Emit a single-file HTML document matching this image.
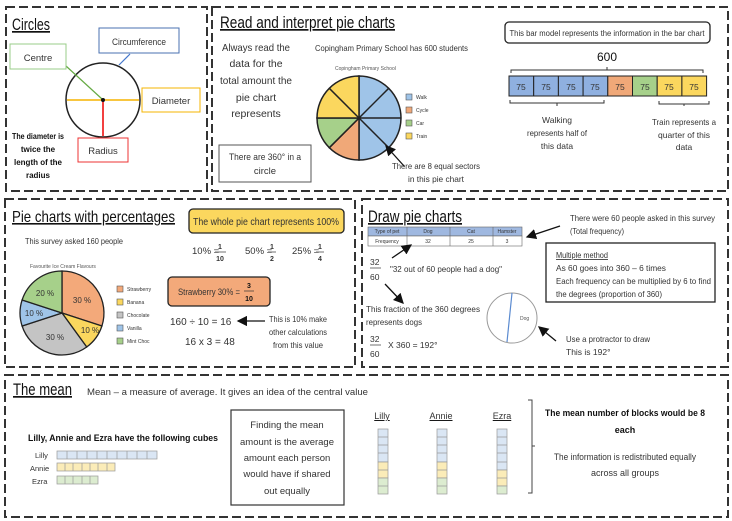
<!DOCTYPE html>
<html><head><meta charset="utf-8"><style>
html,body{margin:0;padding:0;background:#fff}
svg{display:block}
text{font-family:"Liberation Sans",sans-serif;fill:#333}
.t{font-size:17px;fill:#111;text-decoration:underline}
.s{font-size:9.5px}
.xs{font-size:5px;fill:#555}
.b{font-weight:bold;fill:#111}
</style></head><body>
<svg width="732" height="521" viewBox="0 0 732 521" xmlns="http://www.w3.org/2000/svg">
<defs><marker id="ar" markerWidth="8" markerHeight="8" refX="7" refY="4" orient="auto"><path d="M0,0 L8,4 L0,8 z" fill="#111"/></marker></defs>
<g fill="none" stroke="#333" stroke-width="2" stroke-dasharray="9,4">
<rect x="6" y="7" width="201" height="184"/>
<rect x="212" y="7" width="516" height="184"/>
<rect x="5" y="199" width="350" height="168"/>
<rect x="362" y="199" width="366" height="168"/>
<rect x="5" y="375" width="723" height="142"/>
</g>
<!-- Circles -->
<text x="12" y="30" class="t" textLength="38" lengthAdjust="spacingAndGlyphs">Circles</text>
<circle cx="103" cy="100" r="37" fill="none" stroke="#222" stroke-width="1.5"/>
<line x1="67" y1="100" x2="139" y2="100" stroke="#f5b400" stroke-width="1.5"/>
<line x1="103" y1="100" x2="103" y2="136" stroke="#e00" stroke-width="1.5"/>
<line x1="66" y1="66" x2="102" y2="99" stroke="#6a4" stroke-width="1.2"/>
<line x1="130" y1="54" x2="119" y2="65" stroke="#47c" stroke-width="1.2"/>
<circle cx="103" cy="100" r="2" fill="#111"/>
<rect x="10" y="44" width="56" height="25" fill="#fff" stroke="#9c8"/>
<text x="38" y="61" class="s" text-anchor="middle">Centre</text>
<rect x="99" y="28" width="80" height="25" fill="#fff" stroke="#4a70b0"/>
<text x="139" y="45" class="s" text-anchor="middle" textLength="54" lengthAdjust="spacingAndGlyphs">Circumference</text>
<rect x="142" y="88" width="58" height="24" fill="#fff" stroke="#f5b400"/>
<text x="171" y="104" class="s" text-anchor="middle">Diameter</text>
<rect x="78" y="138" width="50" height="24" fill="#fff" stroke="#e33"/>
<text x="103" y="154" class="s" text-anchor="middle">Radius</text>
<g text-anchor="middle" style="font-size:8px;font-weight:bold"><text x="38" y="139" class="b" textLength="52" lengthAdjust="spacingAndGlyphs">The diameter is</text><text x="38" y="152" class="b">twice the</text><text x="38" y="165" class="b">length of the</text><text x="38" y="178" class="b">radius</text></g>
<!-- Read -->
<text x="220" y="28" class="t" textLength="175" lengthAdjust="spacingAndGlyphs">Read and interpret pie charts</text>
<g class="s" text-anchor="middle" style="font-size:10.5px"><text x="256" y="51" textLength="68" lengthAdjust="spacingAndGlyphs">Always read the</text><text x="256" y="67">data for the</text><text x="256" y="84" textLength="72" lengthAdjust="spacingAndGlyphs">total amount the</text><text x="256" y="101">pie chart</text><text x="256" y="117">represents</text></g>
<rect x="219" y="145" width="92" height="37" fill="none" stroke="#555"/>
<text x="265" y="160" class="s" text-anchor="middle" textLength="72" lengthAdjust="spacingAndGlyphs">There are 360° in a</text>
<text x="265" y="174" class="s" text-anchor="middle">circle</text>
<text x="315" y="51" class="s" style="font-size:8.5px" textLength="153" lengthAdjust="spacingAndGlyphs">Copingham Primary School has 600 students</text>
<text x="335" y="70" class="xs">Copingham Primary School</text>
<g stroke="#222" stroke-width="1.5">
<path d="M359,118 L359,76 A42,42 0 0 1 359,160 z" fill="#9fc4e8"/>
<path d="M359,118 L359,160 A42,42 0 0 1 329.3,147.7 z" fill="#f0a878"/>
<path d="M359,118 L329.3,147.7 A42,42 0 0 1 317,118 z" fill="#a6d08a"/>
<path d="M359,118 L317,118 A42,42 0 0 1 359,76 z" fill="#fbd75e"/>
<line x1="359" y1="118" x2="388.7" y2="88.3"/><line x1="359" y1="118" x2="401" y2="118"/><line x1="359" y1="118" x2="388.7" y2="147.7"/><line x1="359" y1="118" x2="329.3" y2="88.3"/>
</g>
<g stroke="#555" stroke-width="0.6"><rect x="406" y="94" width="6" height="6" fill="#9fc4e8"/><rect x="406" y="107" width="6" height="6" fill="#f0a878"/><rect x="406" y="120" width="6" height="6" fill="#a6d08a"/><rect x="406" y="133" width="6" height="6" fill="#fbd75e"/></g>
<g class="xs"><text x="416" y="99">Walk</text><text x="416" y="112">Cycle</text><text x="416" y="125">Car</text><text x="416" y="138">Train</text></g>
<line x1="404" y1="166" x2="386" y2="146" stroke="#111" stroke-width="1.3" marker-end="url(#ar)"/>
<text x="436" y="169" class="s" text-anchor="middle" style="font-size:8.5px" textLength="88" lengthAdjust="spacingAndGlyphs">There are 8 equal sectors</text>
<text x="436" y="182" class="s" text-anchor="middle" style="font-size:8.5px" textLength="56" lengthAdjust="spacingAndGlyphs">in this pie chart</text>
<rect x="505" y="22" width="205" height="21" rx="4" fill="#fff" stroke="#222" stroke-width="1.3"/>
<text x="607" y="36" class="s" text-anchor="middle" style="font-size:8px" textLength="195" lengthAdjust="spacingAndGlyphs">This bar model represents the information in the bar chart</text>
<text x="607" y="61" class="s" text-anchor="middle" style="font-size:12px;fill:#111">600</text>
<path d="M511,73 v-3 h192 v3 M607,70 v-3" fill="none" stroke="#333"/>
<g stroke="#222" stroke-width="1">
<rect x="509" y="76" width="24.7" height="20" fill="#8fb0e0"/><rect x="533.7" y="76" width="24.7" height="20" fill="#8fb0e0"/><rect x="558.4" y="76" width="24.7" height="20" fill="#8fb0e0"/><rect x="583.1" y="76" width="24.7" height="20" fill="#8fb0e0"/><rect x="607.8" y="76" width="24.7" height="20" fill="#f0a878"/><rect x="632.5" y="76" width="24.7" height="20" fill="#a6d08a"/><rect x="657.2" y="76" width="24.7" height="20" fill="#fbd75e"/><rect x="681.9" y="76" width="24.7" height="20" fill="#fbd75e"/>
</g>
<g class="s" text-anchor="middle" style="font-size:8.5px"><text x="521" y="90">75</text><text x="546" y="90">75</text><text x="571" y="90">75</text><text x="595" y="90">75</text><text x="620" y="90">75</text><text x="645" y="90">75</text><text x="669" y="90">75</text><text x="694" y="90">75</text></g>
<path d="M510,100 v3 h94 v-3 M557,103 v3 M659,101 v3 h50 v-3 M684,104 v2" fill="none" stroke="#333"/>
<g class="s" text-anchor="middle" style="font-size:8.5px"><text x="557" y="123">Walking</text><text x="557" y="136" textLength="60" lengthAdjust="spacingAndGlyphs">represents half of</text><text x="557" y="149">this data</text>
<text x="684" y="125" textLength="64" lengthAdjust="spacingAndGlyphs">Train represents a</text><text x="684" y="138">quarter of this</text><text x="684" y="150">data</text></g>
<!-- Percentages -->
<text x="12" y="222" class="t" style="font-size:16px" textLength="163" lengthAdjust="spacingAndGlyphs">Pie charts with percentages</text>
<text x="25" y="244" class="s" style="font-size:8.5px" textLength="98" lengthAdjust="spacingAndGlyphs">This survey asked 160 people</text>
<rect x="189" y="209" width="155" height="24" rx="4" fill="#fbd75e" stroke="#222" stroke-width="1.3"/>
<text x="266" y="225" class="s" text-anchor="middle" style="font-size:10px" textLength="146" lengthAdjust="spacingAndGlyphs">The whole pie chart represents 100%</text>
<g class="s" style="font-size:9.5px"><text x="192" y="254">10% =</text><text x="245" y="254">50% =</text><text x="292" y="254">25% =</text></g>
<g class="s b" text-anchor="middle" style="font-size:7px"><text x="220" y="249">1</text><text x="220" y="261">10</text><text x="272" y="249">1</text><text x="272" y="261">2</text><text x="320" y="249">1</text><text x="320" y="261">4</text></g>
<g stroke="#333" stroke-width="0.7"><line x1="215" y1="252" x2="226" y2="252"/><line x1="268" y1="252" x2="276" y2="252"/><line x1="316" y1="252" x2="324" y2="252"/></g>
<text x="30" y="268" class="xs">Favourite Ice Cream Flavours</text>
<g stroke="#222" stroke-width="1.3">
<path d="M62,313 L62,271 A42,42 0 0 1 101.9,326 z" fill="#f3a97a"/>
<path d="M62,313 L101.9,326 A42,42 0 0 1 86.7,347 z" fill="#fbd75e"/>
<path d="M62,313 L86.7,347 A42,42 0 0 1 22.1,326 z" fill="#c4c4c4"/>
<path d="M62,313 L22.1,326 A42,42 0 0 1 22.1,300 z" fill="#9fc4e8"/>
<path d="M62,313 L22.1,300 A42,42 0 0 1 62,271 z" fill="#a6d08a"/>
</g>
<g class="s" style="font-size:8px;fill:#333" text-anchor="middle"><text x="82" y="303">30 %</text><text x="45" y="296">20 %</text><text x="34" y="316">10 %</text><text x="90" y="333">10 %</text><text x="55" y="340">30 %</text></g>
<g stroke="#555" stroke-width="0.6"><rect x="117" y="286" width="6" height="6" fill="#f3a97a"/><rect x="117" y="299" width="6" height="6" fill="#fbd75e"/><rect x="117" y="312" width="6" height="6" fill="#c4c4c4"/><rect x="117" y="325" width="6" height="6" fill="#9fc4e8"/><rect x="117" y="338" width="6" height="6" fill="#a6d08a"/></g>
<g class="xs"><text x="127" y="291">Strawberry</text><text x="127" y="304">Banana</text><text x="127" y="317">Chocolate</text><text x="127" y="330">Vanilla</text><text x="127" y="343">Mint Choc</text></g>
<rect x="168" y="277" width="102" height="29" rx="4" fill="#f3a97a" stroke="#222" stroke-width="1.3"/>
<text x="178" y="295" class="s" style="font-size:9.5px" textLength="62" lengthAdjust="spacingAndGlyphs">Strawberry 30% =</text>
<text x="249" y="288" class="s b" text-anchor="middle" style="font-size:7px">3</text><text x="249" y="301" class="s b" text-anchor="middle" style="font-size:7px">10</text>
<line x1="244" y1="291" x2="254" y2="291" stroke="#333" stroke-width="0.7"/>
<text x="170" y="325" class="s" style="font-size:10px">160 ÷ 10 = 16</text>
<line x1="265" y1="321" x2="238" y2="321" stroke="#111" stroke-width="1.3" marker-end="url(#ar)"/>
<text x="185" y="345" class="s" style="font-size:10px">16 x 3 = 48</text>
<g class="s" text-anchor="middle" style="font-size:8.5px"><text x="298" y="322" textLength="58" lengthAdjust="spacingAndGlyphs">This is 10% make</text><text x="298" y="335" textLength="58" lengthAdjust="spacingAndGlyphs">other calculations</text><text x="298" y="348" textLength="50" lengthAdjust="spacingAndGlyphs">from this value</text></g>
<!-- Draw -->
<text x="368" y="222" class="t" textLength="94" lengthAdjust="spacingAndGlyphs">Draw pie charts</text>
<g stroke="#666" stroke-width="0.6">
<rect x="368" y="227" width="154" height="9" fill="#9fb8e0"/><rect x="368" y="236" width="154" height="10" fill="#fff"/>
<line x1="407" y1="227" x2="407" y2="246"/><line x1="450" y1="227" x2="450" y2="246"/><line x1="493" y1="227" x2="493" y2="246"/>
</g>
<g class="xs" text-anchor="middle"><text x="387" y="233">Type of pet</text><text x="428" y="233">Dog</text><text x="471" y="233">Cat</text><text x="507" y="233">Hamster</text><text x="387" y="243">Frequency</text><text x="428" y="243">32</text><text x="471" y="243">25</text><text x="507" y="243">3</text></g>
<g class="s" style="font-size:8.5px"><text x="570" y="221" textLength="145" lengthAdjust="spacingAndGlyphs">There were 60 people asked in this survey</text><text x="570" y="234" textLength="54" lengthAdjust="spacingAndGlyphs">(Total frequency)</text></g>
<line x1="560" y1="226" x2="527" y2="237" stroke="#111" stroke-width="1.3" marker-end="url(#ar)"/>
<line x1="392" y1="258" x2="411" y2="245" stroke="#111" stroke-width="1.3" marker-end="url(#ar)"/>
<g class="s" style="font-size:8.5px"><text x="370" y="265">32</text><text x="370" y="280">60</text><text x="390" y="272" textLength="112" lengthAdjust="spacingAndGlyphs">"32 out of 60 people had a dog"</text></g>
<line x1="370" y1="268" x2="381" y2="268" stroke="#333" stroke-width="0.7"/>
<line x1="385" y1="284" x2="403" y2="303" stroke="#111" stroke-width="1.3" marker-end="url(#ar)"/>
<g class="s" style="font-size:8.5px"><text x="366" y="312" textLength="114" lengthAdjust="spacingAndGlyphs">This fraction of the 360 degrees</text><text x="366" y="325" textLength="56" lengthAdjust="spacingAndGlyphs">represents dogs</text><text x="370" y="342">32</text><text x="370" y="357">60</text><text x="388" y="348">X 360 = 192°</text></g>
<line x1="370" y1="345" x2="381" y2="345" stroke="#333" stroke-width="0.7"/>
<circle cx="512" cy="318" r="25" fill="#fff" stroke="#999"/>
<line x1="512" y1="293" x2="507" y2="342" stroke="#5a8ad0" stroke-width="1.2"/>
<text x="520" y="320" class="xs">Dog</text>
<line x1="556" y1="341" x2="539" y2="327" stroke="#111" stroke-width="1.3" marker-end="url(#ar)"/>
<g class="s" style="font-size:8.5px"><text x="566" y="342" textLength="84" lengthAdjust="spacingAndGlyphs">Use a protractor to draw</text><text x="566" y="355">This is 192°</text></g>
<rect x="546" y="243" width="169" height="59" fill="#fff" stroke="#222" stroke-width="1.3"/>
<g class="s" style="font-size:8.5px"><text x="556" y="258" style="text-decoration:underline" textLength="52" lengthAdjust="spacingAndGlyphs">Multiple method</text><text x="556" y="271" textLength="110" lengthAdjust="spacingAndGlyphs">As 60 goes into 360 – 6 times</text><text x="556" y="284" textLength="155" lengthAdjust="spacingAndGlyphs">Each frequency can be multiplied by 6 to find</text><text x="556" y="297" textLength="106" lengthAdjust="spacingAndGlyphs">the degrees (proportion of 360)</text></g>
<!-- Mean -->
<text x="13" y="395" class="t" style="font-size:17px" textLength="59" lengthAdjust="spacingAndGlyphs">The mean</text>
<text x="87" y="395" class="s" style="font-size:9.5px" textLength="281" lengthAdjust="spacingAndGlyphs">Mean – a measure of average. It gives an idea of the central value</text>
<text x="28" y="441" class="b" style="font-size:9px" textLength="190" lengthAdjust="spacingAndGlyphs">Lilly, Annie and Ezra have the following cubes</text>
<g class="s" style="font-size:7.5px;fill:#555"><text x="35" y="458">Lilly</text><text x="30" y="471">Annie</text><text x="32" y="484">Ezra</text></g>
<g stroke="#999" stroke-width="0.7">
<rect x="57" y="451" width="100" height="8" fill="#dae6f4"/>
<rect x="57" y="463" width="58" height="8" fill="#fbecb8"/>
<rect x="57" y="476" width="41" height="8" fill="#dcecd0"/>
<path d="M67,451v8M77,451v8M87,451v8M97,451v8M107,451v8M117,451v8M127,451v8M137,451v8M147,451v8M65,463v8M73,463v8M82,463v8M90,463v8M98,463v8M107,463v8M65,476v8M73,476v8M82,476v8M90,476v8"/>
</g>
<rect x="231" y="410" width="113" height="95" fill="#fff" stroke="#333" stroke-width="1.2"/>
<g class="s" text-anchor="middle" style="font-size:9.5px"><text x="287" y="428">Finding the mean</text><text x="287" y="445" textLength="94" lengthAdjust="spacingAndGlyphs">amount is the average</text><text x="287" y="461">amount each person</text><text x="287" y="477">would have if shared</text><text x="287" y="494">out equally</text></g>
<g class="s" text-anchor="middle" style="font-size:9px;text-decoration:underline"><text x="382" y="419">Lilly</text><text x="441" y="419">Annie</text><text x="502" y="419">Ezra</text></g>
<g stroke="#999" stroke-width="0.7">
<rect x="378" y="429" width="10" height="33" fill="#dae6f4"/><rect x="378" y="462" width="10" height="16" fill="#fbecb8"/><rect x="378" y="478" width="10" height="16" fill="#dcecd0"/>
<rect x="437" y="429" width="10" height="33" fill="#dae6f4"/><rect x="437" y="462" width="10" height="16" fill="#fbecb8"/><rect x="437" y="478" width="10" height="16" fill="#dcecd0"/>
<rect x="497" y="429" width="10" height="41" fill="#dae6f4"/><rect x="497" y="470" width="10" height="16" fill="#fbecb8"/><rect x="497" y="486" width="10" height="8" fill="#dcecd0"/>
<path d="M378,437h10M378,445h10M378,453h10M378,470h10M378,486h10M437,437h10M437,445h10M437,453h10M437,470h10M437,486h10M497,437h10M497,445h10M497,453h10M497,462h10M497,478h10"/>
</g>
<path d="M528,400 h4 v93 h-4 M532,446 h3" fill="none" stroke="#444"/>
<g text-anchor="middle" style="font-size:9px"><text x="625" y="416" class="b" textLength="160" lengthAdjust="spacingAndGlyphs">The mean number of blocks would be 8</text><text x="625" y="433" class="b">each</text></g>
<g class="s" text-anchor="middle" style="font-size:9px"><text x="625" y="460" textLength="142" lengthAdjust="spacingAndGlyphs">The information is redistributed equally</text><text x="625" y="476">across all groups</text></g>
</svg>
</body></html>
